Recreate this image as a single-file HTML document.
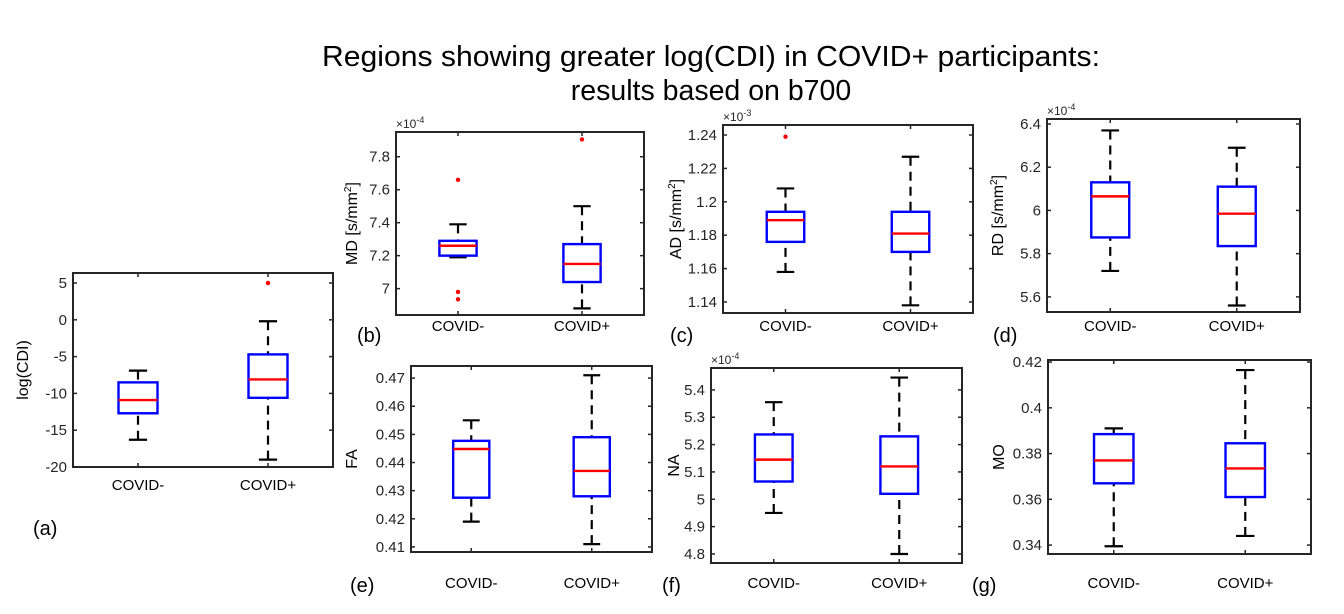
<!DOCTYPE html>
<html><head><meta charset="utf-8"><style>
body{margin:0;background:#fff;}
svg text{font-family:"Liberation Sans",sans-serif;}
</style></head><body>
<svg id="fig" width="1344" height="609" viewBox="0 0 1344 609" xmlns="http://www.w3.org/2000/svg">
<rect width="1344" height="609" fill="#fff"/>
<text x="711" y="66" font-size="28.5" text-anchor="middle" fill="#000" textLength="778" lengthAdjust="spacingAndGlyphs">Regions showing greater log(CDI) in COVID+ participants:</text>
<text x="711" y="100" font-size="28.5" text-anchor="middle" fill="#000">results based on b700</text>
</svg>
<script>
const categories = ['COVID-', 'COVID+'];
// panel a: log(CDI)
const aLow = [-16.3, -19.0], aQ1 = [-12.7, -10.6], aMed = [-10.9, -8.1], aQ3 = [-8.5, -4.7], aHigh = [-6.9, -0.2];
const aOut = [[], [5.0]];
const aTicks = [-20, -15, -10, -5, 0, 5];
// panel b: MD (x1e-4)
const bLow = [7.19, 6.88], bQ1 = [7.20, 7.04], bMed = [7.26, 7.15], bQ3 = [7.29, 7.27], bHigh = [7.39, 7.50];
const bOut = [[7.66, 6.98, 6.935], [7.905]];
const bTicks = [7.0, 7.2, 7.4, 7.6, 7.8];
// panel c: AD (x1e-3)
const cLow = [1.158, 1.138], cQ1 = [1.176, 1.170], cMed = [1.189, 1.181], cQ3 = [1.194, 1.194], cHigh = [1.208, 1.227];
const cOut = [[1.239], []];
const cTicks = [1.14, 1.16, 1.18, 1.2, 1.22, 1.24];
// panel d: RD (x1e-4)
const dLow = [5.72, 5.56], dQ1 = [5.875, 5.835], dMed = [6.065, 5.985], dQ3 = [6.13, 6.11], dHigh = [6.37, 6.29];
const dOut = [[], []];
const dTicks = [5.6, 5.8, 6.0, 6.2, 6.4];
// panel e: FA
const eLow = [0.419, 0.411], eQ1 = [0.4275, 0.428], eMed = [0.4448, 0.437], eQ3 = [0.4477, 0.449], eHigh = [0.455, 0.471];
const eOut = [[], []];
const eTicks = [0.41, 0.42, 0.43, 0.44, 0.45, 0.46, 0.47];
// panel f: NA (x1e-4)
const fLow = [4.95, 4.80], fQ1 = [5.065, 5.02], fMed = [5.145, 5.12], fQ3 = [5.237, 5.23], fHigh = [5.355, 5.445];
const fOut = [[], []];
const fTicks = [4.8, 4.9, 5.0, 5.1, 5.2, 5.3, 5.4];
// panel g: MO
const gLow = [0.3395, 0.344], gQ1 = [0.367, 0.361], gMed = [0.377, 0.3735], gQ3 = [0.3885, 0.3845], gHigh = [0.391, 0.4165];
const gOut = [[], []];
const gTicks = [0.34, 0.36, 0.38, 0.40, 0.42];

const NS = 'http://www.w3.org/2000/svg';
const svg = document.getElementById('fig');
function mk(tag, attrs, parent, text) {
  const e = document.createElementNS(NS, tag);
  for (const k in attrs) e.setAttribute(k, attrs[k]);
  if (text !== undefined) e.textContent = text;
  (parent || svg).appendChild(e);
  return e;
}
function fmt(v) { return String(Math.round(v * 1000) / 1000); }

const panels = [
  {id:'a', L:73, R:333, T:273, B:467, y0:-20, y1:6.36, low:aLow, q1:aQ1, med:aMed, q3:aQ3, high:aHigh, out:aOut, ticks:aTicks, ylab:'log(CDI)', unit:false, ylx:28, exp:null, lab:'(a)', lx:33, ly:535, xly:490},
  {id:'b', L:396, R:644, T:132, B:315, y0:6.84, y1:7.95, low:bLow, q1:bQ1, med:bMed, q3:bQ3, high:bHigh, out:bOut, ticks:bTicks, ylab:'MD [s/mm', unit:true, ylx:357, exp:'-4', lab:'(b)', lx:357, ly:342, xly:331},
  {id:'c', L:723, R:973, T:125, B:313, y0:1.1334, y1:1.246, low:cLow, q1:cQ1, med:cMed, q3:cQ3, high:cHigh, out:cOut, ticks:cTicks, ylab:'AD [s/mm', unit:true, ylx:681, exp:'-3', lab:'(c)', lx:670, ly:342, xly:331},
  {id:'d', L:1047, R:1300, T:119, B:312, y0:5.53, y1:6.423, low:dLow, q1:dQ1, med:dMed, q3:dQ3, high:dHigh, out:dOut, ticks:dTicks, ylab:'RD [s/mm', unit:true, ylx:1003, exp:'-4', lab:'(d)', lx:993, ly:342, xly:331},
  {id:'e', L:411, R:652, T:366, B:552, y0:0.4082, y1:0.4743, low:eLow, q1:eQ1, med:eMed, q3:eQ3, high:eHigh, out:eOut, ticks:eTicks, ylab:'FA', unit:false, ylx:357, exp:null, lab:'(e)', lx:350, ly:592, xly:588},
  {id:'f', L:711, R:962, T:368, B:563, y0:4.767, y1:5.48, low:fLow, q1:fQ1, med:fMed, q3:fQ3, high:fHigh, out:fOut, ticks:fTicks, ylab:'NA', unit:false, ylx:679, exp:'-4', lab:'(f)', lx:662, ly:592, xly:588},
  {id:'g', L:1048, R:1311, T:360, B:554, y0:0.3361, y1:0.4209, low:gLow, q1:gQ1, med:gMed, q3:gQ3, high:gHigh, out:gOut, ticks:gTicks, ylab:'MO', unit:false, ylx:1004, exp:null, lab:'(g)', lx:972, ly:592, xly:588}
];

panels.forEach(p => {
  const g = mk('g', {});
  
  
  const ys = v => p.B - (v - p.y0) / (p.y1 - p.y0) * (p.B - p.T);
  const xs = i => p.L + (i + 0.5) / 2 * (p.R - p.L);
  const unit = (p.R - p.L) / 2;
  const bw = 0.3 * unit, cw = 0.14 * unit;
  p.ticks.forEach(t => {
    const y = ys(t);
    const tl = mk('line', {x1:p.L, x2:p.L+4, y1:y, y2:y, stroke:'#262626', 'stroke-width':1.5}, g);
    
    
    mk('line', {x1:p.R, x2:p.R-4, y1:y, y2:y, stroke:'#262626', 'stroke-width':1.5}, g);
    const tx = mk('text', {x:p.L-6, y:y+5, 'font-size':15, fill:'#262626', 'text-anchor':'end'}, g, fmt(t));
    
    
  });
  categories.forEach((c, i) => {
    const x = xs(i);
    mk('line', {x1:x, x2:x, y1:p.B, y2:p.B-4, stroke:'#262626', 'stroke-width':1.5}, g);
    mk('line', {x1:x, x2:x, y1:p.T, y2:p.T+4, stroke:'#262626', 'stroke-width':1.5}, g);
    const tx = mk('text', {x:x, y:p.xly, 'font-size':15, fill:'#000', 'text-anchor':'middle'}, g, c);
    
    
  });
  categories.forEach((c, i) => {
    const x = xs(i);
    const bg = mk('g', {}, g);
    
    
    mk('line', {x1:x, x2:x, y1:ys(p.high[i]), y2:ys(p.q3[i]), stroke:'#000', 'stroke-width':2.2, 'stroke-dasharray':'9,6'}, bg);
    mk('line', {x1:x, x2:x, y1:ys(p.low[i]), y2:ys(p.q1[i]), stroke:'#000', 'stroke-width':2.2, 'stroke-dasharray':'9,6'}, bg);
    mk('line', {x1:x-cw/2, x2:x+cw/2, y1:ys(p.high[i]), y2:ys(p.high[i]), stroke:'#000', 'stroke-width':2.2}, bg);
    mk('line', {x1:x-cw/2, x2:x+cw/2, y1:ys(p.low[i]), y2:ys(p.low[i]), stroke:'#000', 'stroke-width':2.2}, bg);
    mk('rect', {x:x-bw/2, y:ys(p.q3[i]), width:bw, height:ys(p.q1[i])-ys(p.q3[i]), fill:'none', stroke:'#0000ff', 'stroke-width':2.4}, bg);
    mk('line', {x1:x-bw/2, x2:x+bw/2, y1:ys(p.med[i]), y2:ys(p.med[i]), stroke:'#ff0000', 'stroke-width':2.4}, bg);
    p.out[i].forEach(o => {
      const oc = mk('circle', {cx:x, cy:ys(o), r:2.2, fill:'#ff0000'}, bg);
      
      
    });
  });
  const fr = mk('rect', {x:p.L, y:p.T, width:p.R-p.L, height:p.B-p.T, fill:'none', stroke:'#262626', 'stroke-width':2}, g);
  
  
  const cy = (p.T + p.B) / 2;
  const yl = mk('text', {x:p.ylx, y:cy, 'font-size':16, fill:'#000', 'text-anchor':'middle', transform:'rotate(-90 '+p.ylx+' '+cy+')'}, g);
  
  
  yl.textContent = p.ylab;
  if (p.unit) {
    mk('tspan', {'font-size':10, dy:-6}, yl, '2');
    mk('tspan', {dy:6}, yl, ']');
  }
  if (p.exp) {
    const ex = mk('text', {x:p.L, y:p.T-4, 'font-size':12, fill:'#262626'}, g, '\u00d710');
    
    
    mk('tspan', {'font-size':9, dy:-5}, ex, p.exp);
  }
  const pl = mk('text', {x:p.lx, y:p.ly, 'font-size':20, fill:'#000'}, g, p.lab);
  
  
});
</script>
</body></html>
